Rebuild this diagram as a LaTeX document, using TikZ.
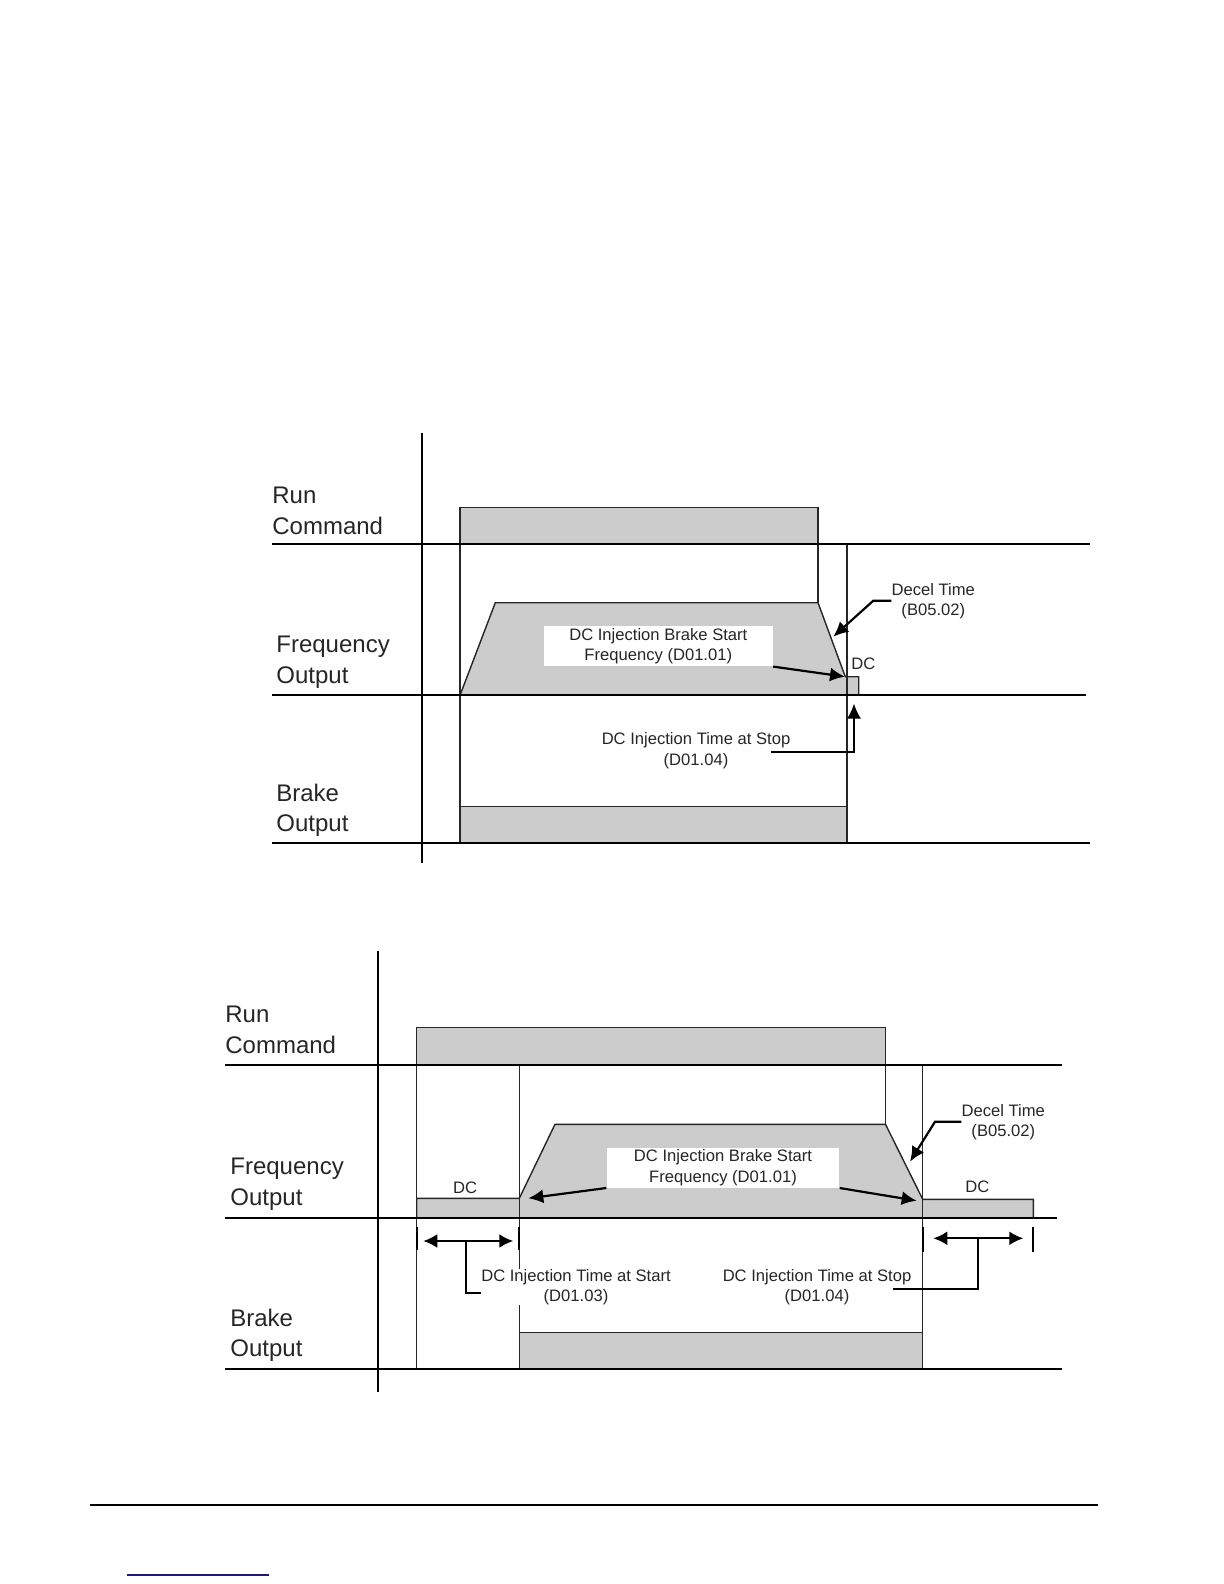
\documentclass[tikz,border=0pt]{standalone}
\usepackage{fontspec}
\setmainfont{Liberation Sans}
\usetikzlibrary{arrows.meta}
\definecolor{sigfill}{gray}{0.8}
\definecolor{sigline}{gray}{0.15}
\definecolor{linkblue}{rgb}{0.1,0.1,0.5}
\tikzset{
  axisline/.style={line width=1.1pt, draw=black},
  sigshape/.style={fill=sigfill, draw=sigline, line width=0.7pt},
  edgeline/.style={draw=sigline, line width=0.75pt},
  bigtxt/.style={font=\fontsize{12}{15.3}\selectfont, align=left, inner sep=0pt, text=black!85},
  smalltxt/.style={font=\fontsize{8.3}{10.2}\selectfont, align=center, inner sep=0pt, text=black!85},
  notebox/.style={smalltxt, fill=white, minimum height=20pt},
  pointer/.style={line width=1.1pt, -{Latex[length=7.5pt,width=7pt]}},
  leader/.style={line width=1pt},
  span/.style={line width=1.1pt, {Latex[length=7pt,width=7pt]}-{Latex[length=7pt,width=7pt]}},
  ticks/.style={line width=1.1pt},
}
\begin{document}
\begin{tikzpicture}[x=0.5pt,y=-0.5pt]
\useasboundingbox (0,0) rectangle (1224,1584);

% upper chart
\draw[sigshape] (460,544.3) -- (460,507.3) -- (818,507.3) -- (818,544.3);
\draw[sigshape] (460,695.3) -- (495.3,602.7) -- (818,602.7) -- (845.3,676.7) -- (858.7,676.7) -- (858.7,695.3);
\draw[sigshape] (460,842.7) -- (460,806.7) -- (847,806.7) -- (847,842.7);
\draw[edgeline] (460,507.3) -- (460,842.7);
\draw[edgeline] (818,507.3) -- (818,602.7);
\draw[edgeline] (847,544.3) -- (847,842.7);

\path node[bigtxt, anchor=base west] (run1) at (272,534) {Run\\Command}
node[bigtxt, anchor=base west] (freq1) at (276,683.3) {Frequency\\Output}
node[bigtxt, anchor=base west] (brake1) at (276,831.7) {Brake\\Output}
node[notebox, minimum width=114.4pt] (fnote1) at (658.3,646.2) {DC Injection Brake Start\\Frequency (D01.01)}
node[smalltxt, anchor=base] (decel1) at (933.3,615.5) {Decel Time\\(B05.02)}
node[smalltxt, anchor=base] (dc1) at (863.3,669.3) {DC}
node[smalltxt, anchor=base] (stop1) at (696,765) {DC Injection Time at Stop\\(D01.04)}
;
\coordinate (dcf1) at (845,676.7);
\coordinate (dk1) at (873.3,600.7);
\coordinate (dec1) at (833.3,636.7);
\coordinate (sk1) at (771,751.7);
\coordinate (sk2) at (854,751.7);
\coordinate (stp1) at (854,703.5);

\draw[pointer] (fnote1.south east) -- (dcf1);
\draw[pointer] (decel1.west |- dk1) -- (dk1) -- (dec1);
\draw[pointer] (sk1) -- (sk2) -- (stp1);

\draw[axisline] (421.7,432.7) -- (421.7,863);
\draw[axisline] (272,544.3) -- (1090,544.3);
\draw[axisline] (272,695.3) -- (1086,695.3);
\draw[axisline] (272,842.7) -- (1090,842.7);

% lower chart
\draw[sigshape] (416.7,1065) -- (416.7,1027.3) -- (885.5,1027.3) -- (885.5,1065);
\draw[sigshape] (416.7,1218.3) -- (416.7,1198.3) -- (519.3,1198.3) -- (555,1124.3) -- (885.5,1124.3) -- (922.7,1199.3) -- (1033.3,1199.3) -- (1033.3,1218.3);
\draw[sigshape] (519.3,1369.3) -- (519.3,1332.7) -- (922.7,1332.7) -- (922.7,1369.3);
\draw[edgeline] (416.7,1027.3) -- (416.7,1369.3);
\draw[edgeline] (519.3,1065) -- (519.3,1369.3);
\draw[edgeline] (885.5,1027.3) -- (885.5,1124.3);
\draw[edgeline] (922.7,1065) -- (922.7,1369.3);

\path node[bigtxt, anchor=base west] (run2) at (225,1053.3) {Run\\Command}
node[bigtxt, anchor=base west] (freq2) at (230,1205) {Frequency\\Output}
node[bigtxt, anchor=base west] (brake2) at (230,1356.7) {Brake\\Output}
node[notebox, minimum width=116.3pt] (fnote2) at (723,1167.6) {DC Injection Brake Start\\Frequency (D01.01)}
node[smalltxt, anchor=base] (decel2) at (1003.3,1136.7) {Decel Time\\(B05.02)}
node[smalltxt, anchor=base] (dcl) at (465,1193.3) {DC}
node[smalltxt, anchor=base] (dcr) at (977.3,1192.7) {DC}
node[smalltxt, anchor=base, fill=white] (start2) at (576,1301.7) {DC Injection Time at Start\\(D01.03)}
node[smalltxt, anchor=base] (stop2) at (817,1301.7) {DC Injection Time at Stop\\(D01.04)}
;
\coordinate (dcf2) at (528.3,1198.3);
\coordinate (dcf3) at (916.7,1200.7);
\coordinate (dk2) at (935,1121.7);
\coordinate (dec2) at (910,1161.7);
\coordinate (sa) at (423.3,1241);
\coordinate (sb) at (513.3,1241);
\coordinate (sm) at (466,1241);
\coordinate (sk3) at (466,1292.7);
\coordinate (ta) at (933.3,1238.3);
\coordinate (tb) at (1023.3,1238.3);
\coordinate (tm) at (978.3,1238.3);
\coordinate (tk3) at (978.3,1289.3);
\coordinate (tk4) at (893.3,1289.3);

\draw[pointer] (fnote2.south west) -- (dcf2);
\draw[pointer] (fnote2.south east) -- (dcf3);
\draw[pointer] (decel2.west |- dk2) -- (dk2) -- (dec2);

\draw[ticks] (416.7,1226.7) -- (416.7,1250);
\draw[ticks] (519.3,1226.7) -- (519.3,1250);
\draw[ticks] (922.7,1226.7) -- (922.7,1251.7);
\draw[ticks] (1033.3,1226.7) -- (1033.3,1251.7);
\draw[span] (sa) -- (sb);
\draw[span] (ta) -- (tb);
\draw[leader] (sm) -- (sk3) -- (start2.west |- sk3);
\draw[leader] (tm) -- (tk3) -- (tk4);

\draw[axisline] (378.3,950.7) -- (378.3,1391.7);
\draw[axisline] (225,1065) -- (1061.7,1065);
\draw[axisline] (225,1218.3) -- (1056.7,1218.3);
\draw[axisline] (225,1369.3) -- (1061.7,1369.3);

% page foot
\draw[line width=0.65pt] (90,1505) -- (1097.7,1505);
\draw[line width=0.6pt, linkblue] (126.7,1575) -- (269,1575);
\end{tikzpicture}
\end{document}
